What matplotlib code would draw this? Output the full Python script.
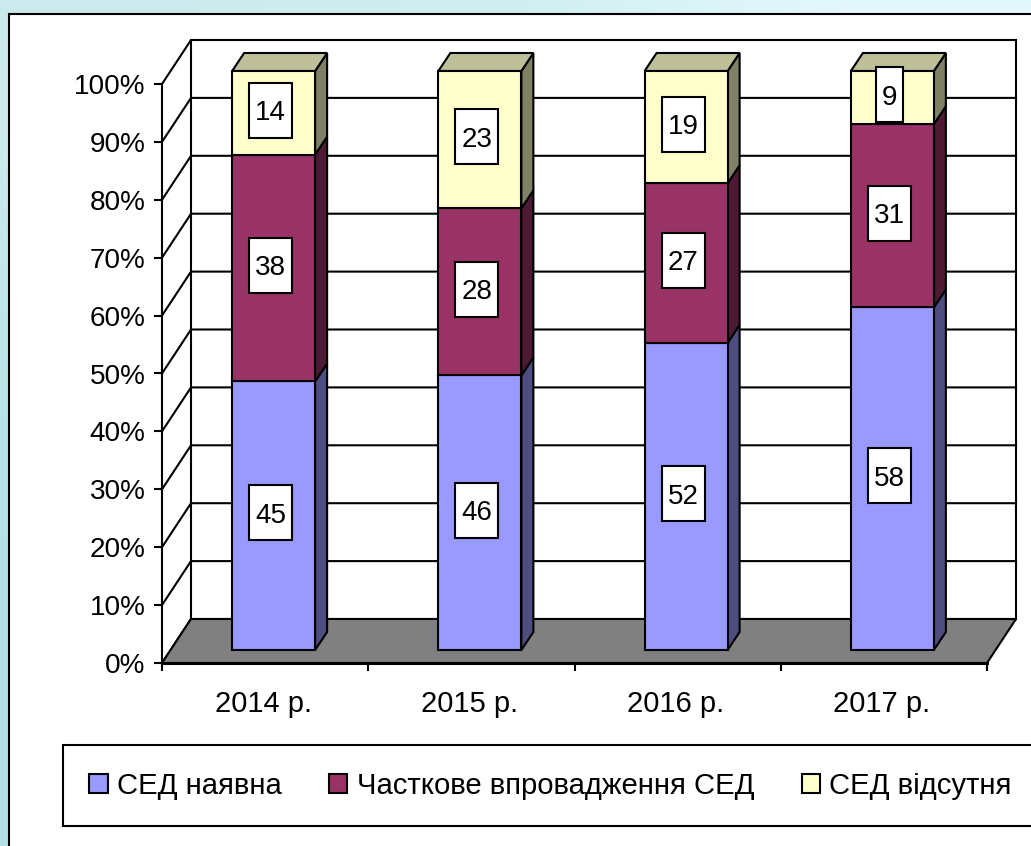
#!python3
import numpy as np
import matplotlib
matplotlib.use("Agg")
import matplotlib.pyplot as plt
from matplotlib.patches import Polygon, Rectangle, Patch

plt.rcParams['font.family'] = ['Liberation Sans', 'DejaVu Sans']

# data
years = ["2014 р.", "2015 р.", "2016 р.", "2017 р."]
series_names = ["СЕД наявна", "Часткове впровадження СЕД", "СЕД відсутня"]
sed_present = [45, 46, 52, 58]
sed_partial = [38, 28, 27, 31]
sed_absent = [14, 23, 19, 9]
y_ticks = [0, 10, 20, 30, 40, 50, 60, 70, 80, 90, 100]

# colours: front, side, top
fronts = ["#9999FF", "#993366", "#FFFFCC"]
sides = ["#4D4D80", "#4D1A33", "#808066"]
top_colour = "#BFBF99"

W, H = 1031, 846
fig = plt.figure(figsize=(W / 100, H / 100), dpi=100)

# page background behind the white panel
bg = fig.add_axes([0, 0, 1, 1], zorder=0)
bg_colours = np.array([[[0.80, 0.92, 0.93], [0.82, 0.94, 0.94], [0.89, 0.97, 0.99]],
                       [[0.72, 0.89, 0.91], [0.85, 0.94, 0.95], [0.90, 0.97, 0.98]],
                       [[0.70, 0.88, 0.90], [0.85, 0.94, 0.95], [0.90, 0.97, 0.98]]])
bg.imshow(bg_colours, aspect="auto", interpolation="bilinear")
bg.axis("off")
fig.add_artist(Rectangle((9 / W, -0.01), 1.02, 1 - 14 / H + 0.01, transform=fig.transFigure,
                         fc="white", ec="black", lw=1.5, zorder=1))

# axes = front plane of the 3d box
ax = fig.add_axes([162 / W, (H - 663) / H, 825 / W, 579 / H], zorder=2)
ax.patch.set_alpha(0)
ax.set_xlim(0, 4)
ax.set_ylim(0, 100)
px = 4 / 825   # one pixel in x data units
py = 100 / 579  # one pixel in y data units
lw = 1.5

# walls and floor
back_dx, back_dy = 29 * px, 44 * py
ax.add_patch(Polygon([(0, 0), (back_dx, back_dy), (4 + back_dx, back_dy), (4, 0)],
                     fc="#808080", ec="black", lw=lw, clip_on=False, zorder=1))
for t in y_ticks:
    ax.plot([0, back_dx, 4 + back_dx], [t, t + back_dy, t + back_dy], color="black", lw=lw,
            clip_on=False, zorder=0.5, solid_joinstyle="miter")
ax.plot([back_dx, back_dx], [back_dy, 100 + back_dy], color="black", lw=lw, clip_on=False, zorder=0.6)
ax.plot([4 + back_dx, 4 + back_dx], [back_dy, 100 + back_dy], color="black", lw=lw, clip_on=False, zorder=0.6)

# bars
bar_w = 83 * px
bar_off = 8.5 * px
base = 13 * py
side_dx, side_dy = 12 * px, 18 * py
x = np.arange(4) + 0.5 + bar_off
values = np.array([sed_present, sed_partial, sed_absent], dtype=float)
pct = 100 * values / values.sum(axis=0)
bottom = np.full(4, base)
for i in range(3):
    ax.bar(x, pct[i], bar_w, bottom=bottom, color=fronts[i], edgecolor="black", lw=lw, zorder=3,
           clip_on=False)
    for j in range(4):
        r = x[j] + bar_w / 2
        ax.add_patch(Polygon([(r, bottom[j]), (r + side_dx, bottom[j] + side_dy),
                              (r + side_dx, bottom[j] + pct[i][j] + side_dy), (r, bottom[j] + pct[i][j])],
                             fc=sides[i], ec="black", lw=lw, clip_on=False, zorder=2))
        # value label box
        w = (43 if values[i][j] >= 10 else 27) * px
        h = 55 * py
        cy = bottom[j] + pct[i][j] / 2 + 2.7 * py
        cx = x[j] - 3 * px
        ax.add_patch(Rectangle((cx - w / 2, cy - h / 2), w, h, fc="white", ec="black", lw=lw,
                               clip_on=False, zorder=5))
        ax.text(cx, cy, "%d" % values[i][j], ha="center", va="center_baseline", fontsize=20,
                color="black", zorder=6)
    bottom = bottom + pct[i]

# bar tops
for j in range(4):
    l, r = x[j] - bar_w / 2, x[j] + bar_w / 2
    ax.add_patch(Polygon([(l, bottom[j]), (l + side_dx, bottom[j] + side_dy),
                          (r + side_dx, bottom[j] + side_dy), (r, bottom[j])],
                         fc=top_colour, ec="black", lw=lw, clip_on=False, zorder=2.5))

# ticks
for s in ["top", "right"]:
    ax.spines[s].set_visible(False)
ax.spines["left"].set_linewidth(lw)
ax.spines["bottom"].set_linewidth(2.2)
ax.set_yticks(y_ticks)
ax.set_yticklabels(["%d%%" % t for t in y_ticks], fontsize=20.1)
ax.tick_params(axis="y", length=5.5, width=lw, pad=6.5)
ax.set_xticks(np.arange(5))
ax.set_xticklabels([])
ax.tick_params(axis="x", which="major", length=6, width=lw)
ax.set_xticks(np.arange(4) + 0.49, minor=True)
ax.set_xticklabels(years, minor=True, fontsize=21)
ax.tick_params(axis="x", which="minor", length=0, pad=19.3)

# legend, runs past the right edge like the original
handles = [Patch(fc=fronts[i], ec="black", lw=lw, label=series_names[i]) for i in range(3)]
leg = fig.legend(handles=handles, loc="lower left", bbox_to_anchor=(63 / W, (H - 826) / H),
                 bbox_transform=fig.transFigure, ncol=3, fontsize=21.1, borderaxespad=0, borderpad=0.9,
                 handlelength=0.62, handleheight=0.62, handletextpad=0.32, columnspacing=1.62,
                 fancybox=False, framealpha=1, edgecolor="black")
leg.get_frame().set_linewidth(lw)
leg.set_zorder(3)

fig.savefig("out.png", dpi=100)
